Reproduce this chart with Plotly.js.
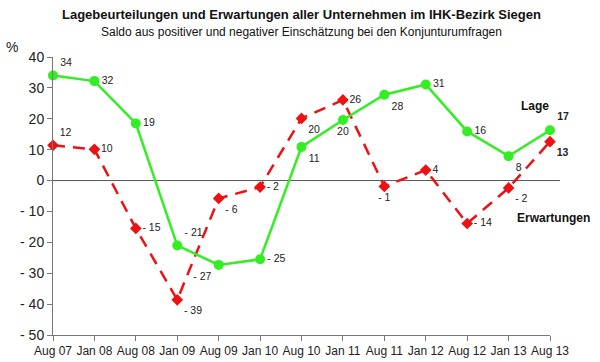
<!DOCTYPE html>
<html>
<head>
<meta charset="utf-8">
<script src="https://cdn.plot.ly/plotly-3.0.1.min.js"></script>
<style>html,body{margin:0;padding:0;background:#fff;}#chart{width:600px;height:362px;}</style>
</head>
<body>
<div id="chart"></div>
<script>
const categories = ["Aug 07","Jan 08","Aug 08","Jan 09","Aug 09","Jan 10","Aug 10","Jan 11","Aug 11","Jan 12","Aug 12","Jan 13","Aug 13"];
const lageValues = [34, 32.2, 18.5, -21, -27.3, -25.5, 10.9, 19.6, 27.8, 31.1, 15.9, 7.9, 16.3];
const lageLabels = ["34","32","19","- 21","- 27","- 25","11","20","28","31","16","8","<b>17</b>"];
const erwValues = [11.4, 10.1, -15.5, -38.6, -5.8, -2.1, 20.1, 26.1, -1.9, 3.4, -13.9, -2.4, 12.6];
const erwLabels = ["12","10","- 15","- 39","- 6","- 2","20","26","- 1","4","- 14","- 2","<b>13</b>"];
const yTickVals = [-50,-40,-30,-20,-10,0,10,20,30,40];
const yTickText = ["- 50","- 40","- 30","- 20","- 10","0","10","20","30","40"];

const lagePos = ["top right","middle right","middle right","top right","bottom left","middle right","bottom right","bottom center","bottom right","middle right","middle right","bottom right","top right"];
const erwPos = ["top right","middle right","middle right","bottom right","bottom right","middle right","bottom right","middle right","bottom center","middle right","middle right","bottom right","bottom right"];

const font = "Liberation Sans, Arial, sans-serif";
const traces = [
  {
    x: categories, y: erwValues, type: "scatter", mode: "lines+markers+text",
    name: "Erwartungen",
    line: {color: "#ee1111", width: 2.5, dash: "12px,8px"},
    marker: {symbol: "diamond", size: 9, color: "#ee1111"},
    text: erwLabels, textposition: erwPos,
    textfont: {family: font, size: 10.5, color: "#222"},
    cliponaxis: false
  },
  {
    x: categories, y: lageValues, type: "scatter", mode: "lines+markers+text",
    name: "Lage",
    line: {color: "#33ee22", width: 2.5},
    marker: {symbol: "circle", size: 10, color: "#33ee22"},
    text: lageLabels, textposition: lagePos,
    textfont: {family: font, size: 10.5, color: "#222"},
    cliponaxis: false
  }
];

const layout = {
  width: 600, height: 362,
  margin: {l: 53, r: 50, t: 57, b: 27},
  paper_bgcolor: "#fff", plot_bgcolor: "#fff",
  showlegend: false,
  font: {family: font, size: 12, color: "#222"},
  xaxis: {
    type: "category", range: [0, 12],
    showgrid: false, zeroline: false,
    showline: true, linecolor: "#777", linewidth: 1,
    ticks: "outside", ticklen: 5, tickcolor: "#777",
    tickfont: {family: font, size: 12, color: "#222"}
  },
  yaxis: {
    range: [-50, 40],
    tickvals: yTickVals, ticktext: yTickText,
    showgrid: false, zeroline: false,
    showline: true, linecolor: "#777", linewidth: 1,
    ticks: "outside", ticklen: 5, tickcolor: "#777",
    tickfont: {family: font, size: 14, color: "#222"}
  },
  shapes: [
    {type: "line", xref: "paper", yref: "y", x0: 0, x1: 1.02, y0: 0, y1: 0,
     line: {color: "#555", width: 1}, layer: "below"}
  ],
  annotations: [
    {text: "<b>Lagebeurteilungen und Erwartungen aller Unternehmen im IHK-Bezirk Siegen</b>",
     xref: "paper", yref: "paper", x: 0.5, y: 1, yshift: 43, xanchor: "center", yanchor: "middle",
     showarrow: false, font: {family: font, size: 13, color: "#111"}},
    {text: "Saldo aus positiver und negativer Einschätzung bei den Konjunturumfragen",
     xref: "paper", yref: "paper", x: 0.5, y: 1, yshift: 25, xanchor: "center", yanchor: "middle",
     showarrow: false, font: {family: font, size: 12, color: "#111"}},
    {text: "%", xref: "paper", yref: "paper", x: 0, y: 1, xshift: -41, yshift: 10,
     xanchor: "center", yanchor: "middle", showarrow: false, font: {family: font, size: 14, color: "#222"}},
    {text: "<b>Lage</b>", xref: "paper", yref: "paper", x: 0.97, y: 1, yshift: -49,
     xanchor: "center", yanchor: "middle", showarrow: false, font: {family: font, size: 12, color: "#111"}},
    {text: "<b>Erwartungen</b>", xref: "paper", yref: "paper", x: 1.0, y: 1, yshift: -161, xshift: 3,
     xanchor: "center", yanchor: "middle", showarrow: false, font: {family: font, size: 12, color: "#111"}}
  ]
};

Plotly.newPlot("chart", traces, layout, {displayModeBar: false, staticPlot: true});
</script>
</body>
</html>
